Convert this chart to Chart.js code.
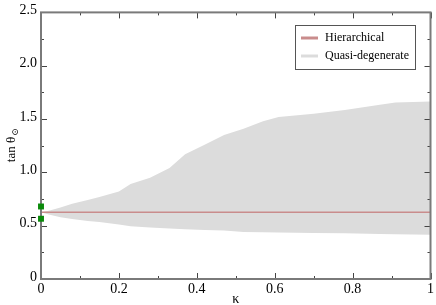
<!DOCTYPE html>
<html>
<head>
<meta charset="utf-8">
<script src="https://cdn.jsdelivr.net/npm/chart.js@4.4.1/dist/chart.umd.min.js"></script>
<style>
  html, body { margin: 0; padding: 0; background: #fff; }
  #wrap { width: 436px; height: 305px; }
</style>
</head>
<body>
<div id="wrap"><canvas id="tanchart"></canvas></div>
<script>
// -------------------------------------------------------
// DATA
// -------------------------------------------------------
const kappa = [0, 0.02, 0.05, 0.08, 0.12, 0.15, 0.2, 0.23, 0.28, 0.33, 0.37,
               0.42, 0.47, 0.52, 0.57, 0.61, 0.7, 0.78, 0.87, 0.91, 1.0];
const quasiUpper = [0.625, 0.64, 0.67, 0.705, 0.74, 0.77, 0.82, 0.89, 0.95, 1.04, 1.17,
                    1.26, 1.35, 1.41, 1.48, 1.52, 1.55, 1.585, 1.635, 1.655, 1.665];
const quasiLower = [0.625, 0.605, 0.58, 0.562, 0.545, 0.535, 0.51, 0.495, 0.482, 0.474, 0.466,
                    0.46, 0.455, 0.441, 0.438, 0.435, 0.432, 0.428, 0.422, 0.42, 0.415];
const hierKappa = [0, 0.5, 1];
const hierValues = [0.626, 0.627, 0.627];
const markKappa = [0, 0];
const markValues = [0.68, 0.565];

const xTicks = [0, 0.2, 0.4, 0.6, 0.8, 1];
const yTicks = [0, 0.5, 1.0, 1.5, 2.0, 2.5];
const legendLabels = ['Hierarchical', 'Quasi-degenerate'];
const xTitle = 'κ';

const SERIF = '"Liberation Serif", "DejaVu Serif", serif';
const FRAME = '#7a7a7a';
const RED = '#c98c8c';
const BAND = '#dcdcdc';

function pts(xs, ys) {
    return xs.map((x, i) => ({ x: x, y: ys[i] }));
}

// -------------------------------------------------------
// frame, in-pointing ticks on all four sides, axis titles and legend
// -------------------------------------------------------
const framePlugin = {
    id: 'frame',
    beforeDatasetDraw(chart, args) {
        // draw the frame just before the green markers (dataset 0, on top)
        if (args.index !== 0) return;
        const { ctx, chartArea: a, scales } = chart;
        const xs = scales.x, ys = scales.y;
        ctx.save();
        ctx.strokeStyle = '#444';
        ctx.lineWidth = 1;
        for (let i = 0; i <= 10; i++) {
            const px = Math.round(xs.getPixelForValue(i / 10)) + 0.5;
            const len = i % 2 === 0 ? 6 : 3;
            ctx.beginPath();
            ctx.moveTo(px, a.bottom); ctx.lineTo(px, a.bottom - len);
            ctx.moveTo(px, a.top); ctx.lineTo(px, a.top + len);
            ctx.stroke();
        }
        for (let i = 0; i <= 10; i++) {
            const py = Math.round(ys.getPixelForValue(i * 0.25)) + 0.5;
            const len = i % 2 === 0 ? 6 : 3;
            ctx.beginPath();
            ctx.moveTo(a.left, py); ctx.lineTo(a.left + len, py);
            ctx.moveTo(a.right, py); ctx.lineTo(a.right - len, py);
            ctx.stroke();
        }
        ctx.strokeStyle = FRAME;
        ctx.lineWidth = 2;
        ctx.strokeRect(a.left, a.top, a.right - a.left, a.bottom - a.top);
        ctx.restore();
    },
    afterDraw(chart) {
        const { ctx, chartArea: a } = chart;

        // x axis title
        ctx.save();
        ctx.fillStyle = '#000';
        ctx.font = '14px ' + SERIF;
        ctx.textAlign = 'center';
        ctx.textBaseline = 'middle';
        ctx.fillText(xTitle, (a.left + a.right) / 2, 299);
        ctx.restore();

        // y axis title: tan θ with a small ⊙ subscript
        ctx.save();
        ctx.translate(12, (a.top + a.bottom) / 2);
        ctx.rotate(-Math.PI / 2);
        ctx.fillStyle = '#000';
        ctx.textBaseline = 'middle';
        ctx.font = '13px ' + SERIF;
        const main = 'tan θ';
        const w = ctx.measureText(main).width;
        ctx.font = '9px ' + SERIF;
        const w2 = ctx.measureText('⊙').width;
        const start = -(w + w2) / 2;
        ctx.font = '13px ' + SERIF;
        ctx.textAlign = 'left';
        ctx.fillText(main, start, 0);
        ctx.font = '9px ' + SERIF;
        ctx.fillText('⊙', start + w + 1, 4);
        ctx.restore();

        // legend box
        ctx.save();
        const bx = 295.5, by = 25.5, bw = 120, bh = 44;
        ctx.fillStyle = '#fff';
        ctx.fillRect(bx, by, bw, bh);
        ctx.strokeStyle = '#555';
        ctx.lineWidth = 1;
        ctx.strokeRect(bx, by, bw, bh);
        const colors = [RED, BAND];
        ctx.font = '12px ' + SERIF;
        ctx.textBaseline = 'middle';
        ctx.fillStyle = '#000';
        legendLabels.forEach((lab, i) => {
            const cy = 38 + i * 18;
            ctx.strokeStyle = colors[i];
            ctx.lineWidth = 3;
            ctx.beginPath();
            ctx.moveTo(301, cy); ctx.lineTo(318, cy);
            ctx.stroke();
            ctx.fillText(lab, 325, cy);
        });
        ctx.restore();
    }
};

const ctx = document.getElementById('tanchart');
new Chart(ctx, {
    type: 'line',
    data: {
        datasets: [
            {
                label: 'markers',
                data: pts(markKappa, markValues),
                showLine: false,
                pointStyle: 'rect',
                pointRadius: 4.2,
                pointBackgroundColor: '#0a8a0a',
                pointBorderWidth: 0,
                clip: false
            },
            {
                label: legendLabels[0],
                data: pts(hierKappa, hierValues),
                borderColor: RED,
                borderWidth: 1.5,
                pointRadius: 0,
                fill: false
            },
            {
                label: legendLabels[1],
                data: pts(kappa, quasiUpper),
                borderColor: BAND,
                borderWidth: 0,
                backgroundColor: BAND,
                pointRadius: 0,
                fill: 3
            },
            {
                label: 'lower',
                data: pts(kappa, quasiLower),
                borderColor: BAND,
                borderWidth: 0,
                pointRadius: 0,
                fill: false
            }
        ]
    },
    options: {
        responsive: true,
        maintainAspectRatio: false,
        animation: false,
        events: [],
        layout: { padding: { top: 6, right: 4, left: 0, bottom: 0 } },
        plugins: {
            legend: { display: false },
            tooltip: { enabled: false }
        },
        scales: {
            x: {
                type: 'linear',
                min: 0, max: 1,
                afterBuildTicks: s => { s.ticks = xTicks.map(v => ({ value: v })); },
                afterFit: s => { s.height = 26; },
                grid: { display: false, drawTicks: false, tickLength: 0 },
                border: { display: false },
                ticks: {
                    padding: 2,
                    color: '#000',
                    maxRotation: 0,
                    font: { family: SERIF, size: 14 },
                    callback: v => (v === 0 || v === 1) ? String(v) : v.toFixed(1)
                }
            },
            y: {
                min: 0, max: 2.5,
                afterBuildTicks: s => { s.ticks = yTicks.map(v => ({ value: v })); },
                afterFit: s => { s.width = 41; },
                grid: { display: false, drawTicks: false, tickLength: 0 },
                border: { display: false },
                ticks: {
                    padding: 4,
                    labelOffset: -2,
                    color: '#000',
                    font: { family: SERIF, size: 14 },
                    callback: v => v === 0 ? '0' : v.toFixed(1)
                }
            }
        }
    },
    plugins: [framePlugin]
});
</script>
</body>
</html>
